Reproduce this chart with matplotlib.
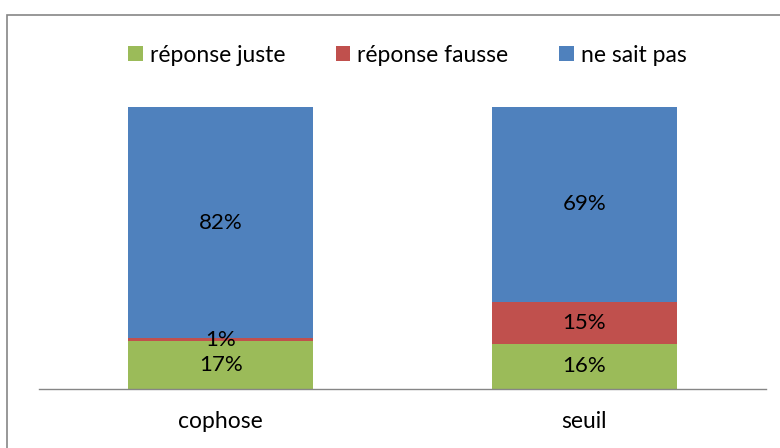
import matplotlib
matplotlib.use('Agg')
import matplotlib.pyplot as plt
from matplotlib.patches import Rectangle

plt.rcParams['font.family'] = ['Lato', 'DejaVu Sans']

categories = ['cophose', 'seuil']
juste = [17, 16]
fausse = [1, 15]
ne_sait_pas = [82, 69]

series_names = ['réponse juste', 'réponse fausse', 'ne sait pas']
colors = ['#9BBB59', '#C0504D', '#4F81BD']

fig = plt.figure(figsize=(7.8, 4.48), dpi=100)
ax = fig.add_axes([0.05, 0.1317, 0.932, 0.6295])

x = list(range(len(categories)))
bottom = [0, 0]
for name, vals, col in zip(series_names, [juste, fausse, ne_sait_pas], colors):
    ax.bar(x, vals, width=0.51, bottom=bottom, color=col, label=name, linewidth=0)
    for xi, v, b in zip(x, vals, bottom):
        ax.text(xi, b + v / 2, f'{v}%', ha='center', va='center', fontsize=16, color='black')
    bottom = [b + v for b, v in zip(bottom, vals)]

ax.set_xlim(-0.5, 1.5)
ax.set_ylim(0, 100)
ax.set_yticks([])
ax.set_xticks(x)
ax.set_xticklabels(categories, fontsize=16.5)
ax.tick_params(axis='x', length=0, pad=16)
for s in ['top', 'right', 'left']:
    ax.spines[s].set_visible(False)
ax.spines['bottom'].set_color('#868686')
ax.spines['bottom'].set_linewidth(1)

fig.legend(loc='center', bbox_to_anchor=(0.522, 0.877), ncol=3, frameon=False,
           fontsize=16.5, handlelength=0.65, handleheight=0.65, handletextpad=0.3,
           columnspacing=2.2)

# outer chart frame
fig.patches.append(Rectangle((7 / 780, -0.05), 1.0, 1 - 15 / 448 + 0.05, transform=fig.transFigure,
                             fill=False, edgecolor='#868686', linewidth=1.2))

fig.savefig('out.png', dpi=100)
